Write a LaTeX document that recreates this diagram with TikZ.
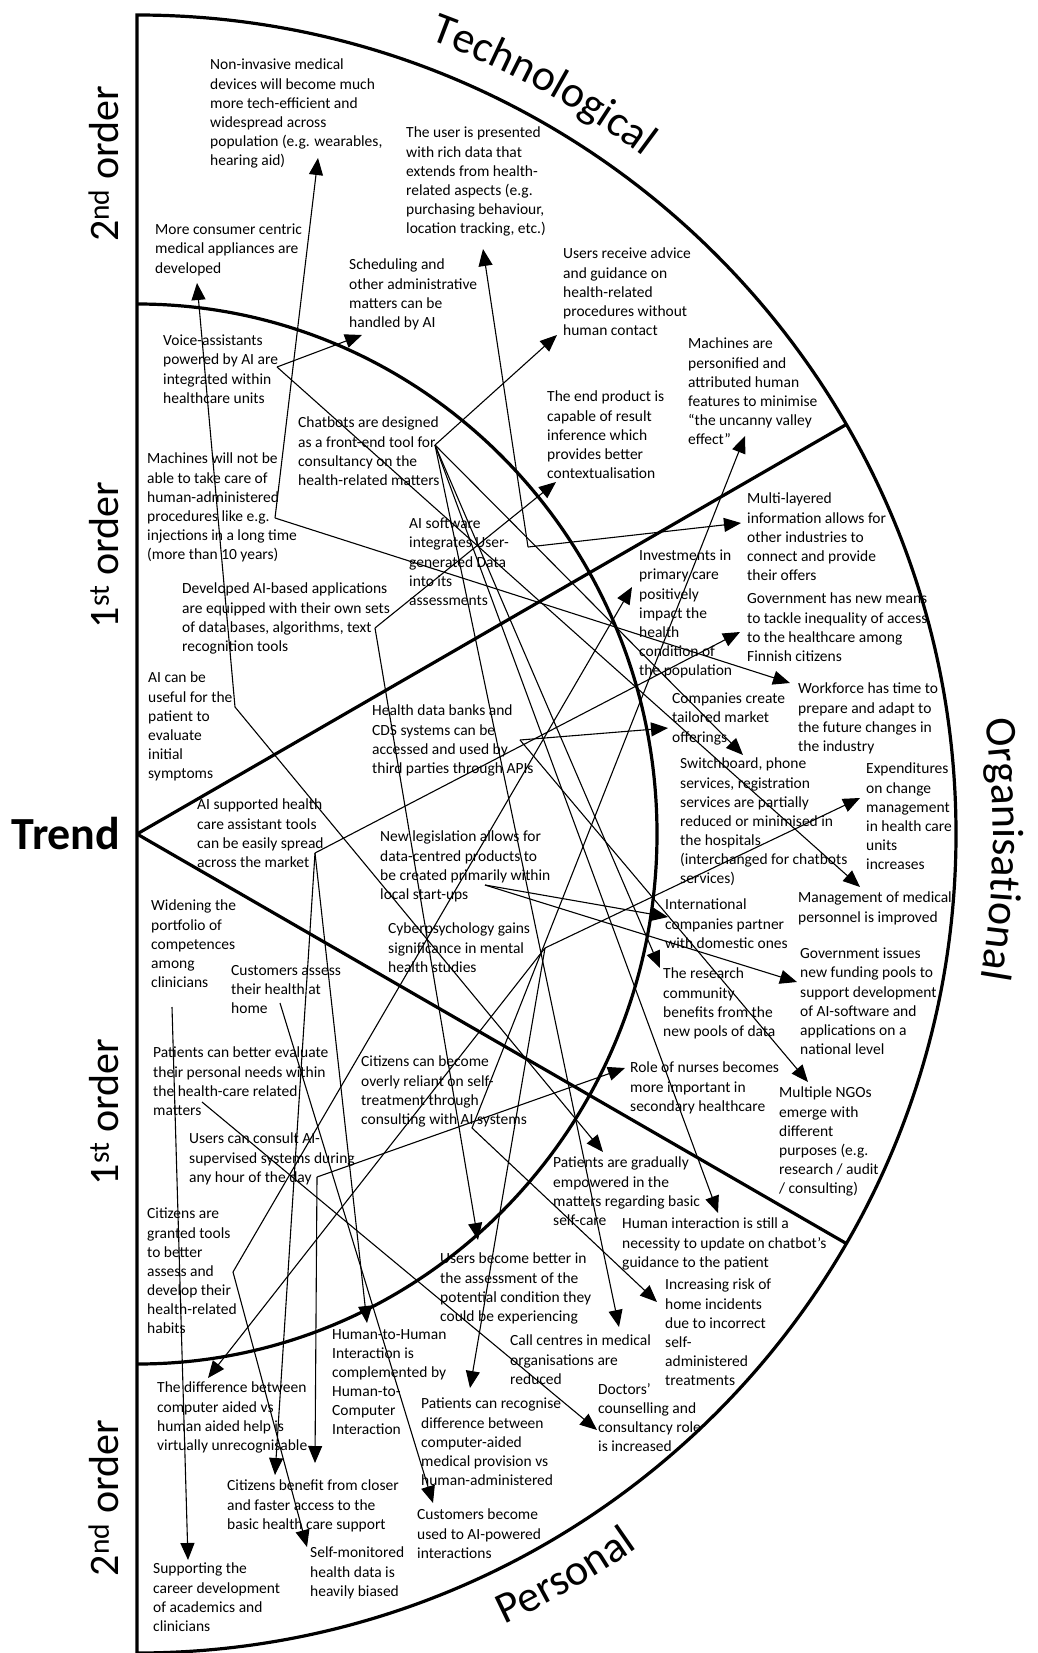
\documentclass[tikz,border=0pt]{standalone}
\usepackage{fontspec}
\setmainfont{Carlito}
\usetikzlibrary{arrows.meta,decorations.text}
\newcommand\labfont{\fontsize{44}{44}\selectfont}
\begin{document}
\begin{tikzpicture}[x=1pt,y=1pt,
  txt/.style={anchor=north west, inner sep=0pt, align=left, font=\fontsize{15.5}{19.1}\selectfont},
  frame/.style={line width=3.2pt},
  arr/.style={line width=1.1pt, -{Triangle[length=17pt,width=14pt]}},
  order/.style={rotate=90, anchor=base, inner sep=0pt, font=\fontsize{42}{42}\selectfont}
]
\useasboundingbox (0,0) rectangle (1037,-1653);

% ---------- wheel frame ----------
\coordinate (C) at (137,-834);
\draw[frame] (137,-15) arc[start angle=90,end angle=-90,radius=819] -- cycle;
\draw[frame] (137,-304) arc[start angle=90,end angle=-90,x radius=520,y radius=530];
\draw[frame] (C) -- ++(30:819);
\draw[frame] (C) -- ++(-30:819);

% ---------- sector and ring labels ----------
\node[anchor=base, inner sep=0pt, font=\bfseries\fontsize{46}{46}\selectfont] (trend) at (66,-849) {Trend};
\node[order] (ord2a) at (118,-164) {2\textsuperscript{nd} order};
\node[order] (ord1a) at (118,-555) {1\textsuperscript{st} order};
\node[order] (ord1b) at (118,-1112) {1\textsuperscript{st} order};
\node[order] (ord2b) at (118,-1498) {2\textsuperscript{nd} order};

\path[shift={(137,-834)}, decorate, decoration={text along path, text align=center, text={|\labfont|Technological}}]
  (99.5:846) arc[start angle=99.5,end angle=23.5,radius=846];
\path[shift={(137,-834)}, decorate, decoration={text along path, text align=center, text={|\labfont|Organisational}}]
  (30:856) arc[start angle=30,end angle=-32,radius=856];
\path[shift={(137,-834)}, decorate, decoration={text along path, text align=center, text={|\labfont|Personal}}]
  (-94:872) arc[start angle=-94,end angle=-26,radius=872];

% ---------- statements ----------
\node[txt] (noninv) at (210,-59) {Non-invasive medical\\devices will become much\\more tech-efficient and\\widespread across\\population (e.g. wearables,\\hearing aid)};
\node[txt] (consumer) at (155,-224) {More consumer centric\\medical appliances are\\developed};
\node[txt] (userdata) at (406,-127) {The user is presented\\with rich data that\\extends from health-\\related aspects (e.g.\\purchasing behaviour,\\location tracking, etc.)};
\node[txt] (sched) at (349,-259) {Scheduling and\\other administrative\\matters can be\\handled by AI};
\node[txt] (advice) at (563,-248) {Users receive advice\\and guidance on\\health-related\\procedures without\\human contact};
\node[txt] (voice) at (163,-335) {Voice-assistants\\powered by AI are\\integrated within\\healthcare units};
\node[txt] (chatbots) at (298,-417) {Chatbots are designed\\as a front-end tool for\\consultancy on the\\health-related matters};
\node[txt] (machnot) at (147,-453) {Machines will not be\\able to take care of\\human-administered\\procedures like e.g.\\injections in a long time\\(more than 10 years)};
\node[txt] (aisoft) at (409,-518) {AI software\\integrates User-\\generated Data\\into its\\assessments};
\node[txt] (endprod) at (547,-391) {The end product is\\capable of result\\inference which\\provides better\\contextualisation};
\node[txt] (personif) at (688,-338) {Machines are\\personified and\\attributed human\\features to minimise\\“the uncanny valley\\effect”};
\node[txt] (multilayer) at (747,-493) {Multi-layered\\information allows for\\other industries to\\connect and provide\\their offers};
\node[txt] (invest) at (639,-550) {Investments in\\primary care\\positively\\impact the\\health\\condition of\\the population};
\node[txt] (devapps) at (182,-583) {Developed AI-based applications\\are equipped with their own sets\\of data bases, algorithms, text\\recognition tools};
\node[txt] (aiuseful) at (148,-672) {AI can be\\useful for the\\patient to\\evaluate\\initial\\symptoms};
\node[txt] (databanks) at (372,-705) {Health data banks and\\CDS systems can be\\accessed and used by\\third parties through APIs};
\node[txt] (aisupport) at (197,-799) {AI supported health\\care assistant tools\\can be easily spread\\across the market};
\node[txt] (govmeans) at (747,-593) {Government has new means\\to tackle inequality of access\\to the healthcare among\\Finnish citizens};
\node[txt] (companies) at (672,-693) {Companies create\\tailored market\\offerings};
\node[txt] (workforce) at (798,-683) {Workforce has time to\\prepare and adapt to\\the future changes in\\the industry};
\node[txt] (switch) at (680,-758) {Switchboard, phone\\services, registration\\services are partially\\reduced or minimised in\\the hospitals\\(interchanged for chatbots\\services)};
\node[txt] (expend) at (866,-763) {Expenditures\\on change\\management\\in health care\\units\\increases};
\node[txt] (legis) at (380,-831) {New legislation allows for\\data-centred products to\\be created primarily within\\local start-ups};
\node[txt] (widening) at (151,-900) {Widening the\\portfolio of\\competences\\among\\clinicians};
\node[txt] (custassess) at (231,-965) {Customers assess\\their health at\\home};
\node[txt] (cyber) at (388,-923) {Cyberpsychology gains\\significance in mental\\health studies};
\node[txt] (patbetter) at (153,-1047) {Patients can better evaluate\\their personal needs within\\the health-care related\\matters};
\node[txt] (reliant) at (361,-1056) {Citizens can become\\overly reliant on self-\\treatment through\\consulting with AI systems};
\node[txt] (mgmt) at (798,-892) {Management of medical\\personnel is improved};
\node[txt] (intl) at (665,-899) {International\\companies partner\\with domestic ones};
\node[txt] (govfund) at (800,-948) {Government issues\\new funding pools to\\support development\\of AI-software and\\applications on a\\national level};
\node[txt] (research) at (663,-968) {The research\\community\\benefits from the\\new pools of data};
\node[txt] (nurses) at (630,-1062) {Role of nurses becomes\\more important in\\secondary healthcare};
\node[txt] (ngos) at (779,-1087) {Multiple NGOs\\emerge with\\different\\purposes (e.g.\\research / audit\\/ consulting)};
\node[txt] (consult) at (189,-1133) {Users can consult AI-\\supervised systems during\\any hour of the day};
\node[txt] (tools) at (147,-1208) {Citizens are\\granted tools\\to better\\assess and\\develop their\\health-related\\habits};
\node[txt] (h2h) at (332,-1329) {Human-to-Human\\Interaction is\\complemented by\\Human-to-\\Computer\\Interaction};
\node[txt] (usersbetter) at (440,-1253) {Users become better in\\the assessment of the\\potential condition they\\could be experiencing};
\node[txt] (empowered) at (553,-1157) {Patients are gradually\\empowered in the\\matters regarding basic\\self-care};
\node[txt] (humanint) at (622,-1218) {Human interaction is still a\\necessity to update on chatbot’s\\guidance to the patient};
\node[txt] (risk) at (665,-1279) {Increasing risk of\\home incidents\\due to incorrect\\self-\\administered\\treatments};
\node[txt] (callc) at (510,-1335) {Call centres in medical\\organisations are\\reduced};
\node[txt] (diff) at (157,-1382) {The difference between\\computer aided vs\\human aided help is\\virtually unrecognisable};
\node[txt] (recognise) at (421,-1398) {Patients can recognise\\difference between\\computer-aided\\medical provision vs\\human-administered};
\node[txt] (benefit) at (227,-1480) {Citizens benefit from closer\\and faster access to the\\basic health care support};
\node[txt] (custused) at (417,-1509) {Customers become\\used to AI-powered\\interactions};
\node[txt] (selfmon) at (310,-1547) {Self-monitored\\health data is\\heavily biased};
\node[txt] (career) at (153,-1563) {Supporting the\\career development\\of academics and\\clinicians};
\node[txt] (doctors) at (598,-1383) {Doctors’\\counselling and\\consultancy role\\is increased};

% ---------- connector ends ----------
\coordinate (s-voice) at (277,-367);
\coordinate (s-chat) at (435,-445);
\coordinate (s-machnot) at (275,-518);
\coordinate (s-aisoft) at (528,-547);
\coordinate (s-devapps) at (375,-628);
\coordinate (s-aiuseful) at (235,-707);
\coordinate (s-databanks) at (520,-740);
\coordinate (s-aisupport) at (315,-853);
\coordinate (s-legis) at (485,-885);
\coordinate (s-cyber) at (545,-948);
\coordinate (s-widening) at (172,-1007);
\coordinate (s-custassess) at (280,-1003);
\coordinate (s-patbetter) at (202,-1102);
\coordinate (s-reliant) at (472,-1128);
\coordinate (s-consult) at (317,-1177);
\coordinate (s-tools) at (233,-1272);

\coordinate (t-noninv) at (318,-158);
\coordinate (t-consumer) at (197,-283);
\coordinate (t-userdata) at (483,-249);
\coordinate (t-sched) at (362,-335);
\coordinate (t-advice) at (557,-335);
\coordinate (t-endprod) at (556,-482);
\coordinate (t-personif) at (745,-436);
\coordinate (t-multilayer) at (741,-523);
\coordinate (t-invest) at (632,-587);
\coordinate (t-govmeans) at (740,-632);
\coordinate (t-workforce) at (790,-683);
\coordinate (t-companies) at (668,-728);
\coordinate (t-switch) at (743,-755);
\coordinate (t-expend) at (860,-798);
\coordinate (t-mgmt) at (860,-887);
\coordinate (t-intl) at (668,-917);
\coordinate (t-research) at (660,-968);
\coordinate (t-govfund) at (797,-982);
\coordinate (t-nurses) at (625,-1068);
\coordinate (t-ngos) at (808,-1082);
\coordinate (t-empowered) at (603,-1152);
\coordinate (t-humanint) at (718,-1213);
\coordinate (t-usersbetter) at (478,-1240);
\coordinate (t-risk) at (657,-1302);
\coordinate (t-callc) at (619,-1327);
\coordinate (t-h2h) at (367,-1323);
\coordinate (t-diff) at (208,-1378);
\coordinate (t-recognise) at (470,-1388);
\coordinate (t-doctors) at (597,-1430);
\coordinate (t-benefit1) at (275,-1475);
\coordinate (t-benefit2) at (315,-1463);
\coordinate (t-custused) at (433,-1503);
\coordinate (t-selfmon) at (307,-1547);
\coordinate (t-career) at (188,-1560);

% ---------- consequences ----------
\draw[arr] (s-machnot) -- (t-noninv);
\draw[arr] (s-machnot) -- (t-workforce);
\draw[arr] (s-aiuseful) -- (t-consumer);
\draw[arr] (s-aiuseful) -- (t-empowered);
\draw[arr] (s-aisoft) -- (t-userdata);
\draw[arr] (s-aisoft) -- (t-multilayer);
\draw[arr] (s-voice) -- (t-sched);
\draw[arr] (s-voice) -- (t-mgmt);
\draw[arr] (s-chat) -- (t-advice);
\draw[arr] (s-chat) -- (t-switch);
\draw[arr] (s-chat) -- (t-humanint);
\draw[arr] (s-chat) -- (t-callc);
\draw[arr] (s-chat) -- (t-research);
\draw[arr] (s-devapps) -- (t-endprod);
\draw[arr] (s-devapps) -- (t-usersbetter);
\draw[arr] (s-reliant) -- (t-personif);
\draw[arr] (s-reliant) -- (t-risk);
\draw[arr] (s-tools) -- (t-invest);
\draw[arr] (s-tools) -- (t-selfmon);
\draw[arr] (s-aisupport) -- (t-govmeans);
\draw[arr] (s-aisupport) -- (t-h2h);
\draw[arr] (s-aisupport) -- (t-benefit1);
\draw[arr] (s-databanks) -- (t-companies);
\draw[arr] (s-databanks) -- (t-ngos);
\draw[arr] (s-cyber) -- (t-expend);
\draw[arr] (s-cyber) -- (t-diff);
\draw[arr] (s-cyber) -- (t-recognise);
\draw[arr] (s-legis) -- (t-intl);
\draw[arr] (s-legis) -- (t-govfund);
\draw[arr] (s-consult) -- (t-nurses);
\draw[arr] (s-consult) -- (t-benefit2);
\draw[arr] (s-patbetter) -- (t-doctors);
\draw[arr] (s-custassess) -- (t-custused);
\draw[arr] (s-widening) -- (t-career);
\end{tikzpicture}
\end{document}
